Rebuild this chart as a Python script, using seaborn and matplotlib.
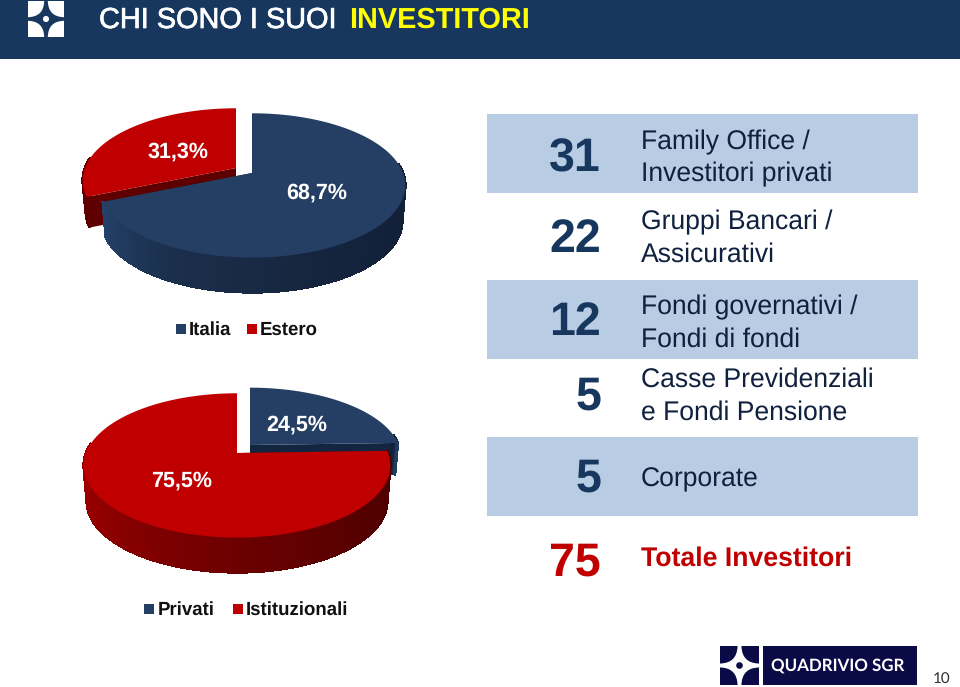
import numpy as np
import seaborn as sns
import matplotlib.pyplot as plt
import matplotlib.patheffects as pe
from matplotlib.patches import Polygon, Rectangle, Circle, PathPatch
from matplotlib.path import Path

# === DATA ===
title_white = "CHI SONO I SUOI"
title_yellow = "INVESTITORI"

geo_labels = ["Italia", "Estero"]
geo_values = [68.7, 31.3]
geo_texts = ["68,7%", "31,3%"]

type_labels = ["Privati", "Istituzionali"]
type_values = [24.5, 75.5]
type_texts = ["24,5%", "75,5%"]

investor_counts = [31, 22, 12, 5, 5, 75]
investor_lines = [
    "Family Office /\nInvestitori privati",
    "Gruppi Bancari /\nAssicurativi",
    "Fondi governativi /\nFondi di fondi",
    "Casse Previdenziali\ne Fondi Pensione",
    "Corporate",
    "Totale Investitori",
]
company = "QUADRIVIO SGR"
page_no = "10"

# === STYLE ===
NAVY = "#17375E"
BLUE = "#243F63"
RED = "#C00000"
BAND = "#B8CCE4"
LOGO = "#0A0A46"
TEXT = "#10203F"
sns.set_theme(style="white")
plt.rcParams["font.family"] = ["Liberation Sans", "DejaVu Sans"]
plt.rcParams["text.hinting"] = "none"

# whole figure in pixel coordinates, y going down
fig = plt.figure(figsize=(9.6, 6.87), dpi=100)
ax = fig.add_axes([0, 0, 1, 1])
ax.set_xlim(0, 960)
ax.set_ylim(687, 0)
ax.axis("off")


def project(theta, ax0, ay0, R=151, S=70, k=0.172):
    # tilted circle with a bit of perspective, apex at (ax0, ay0)
    u, v = np.cos(theta), np.sin(theta)
    w = 1 + k * v
    return ax0 + R * u / w, ay0 - S * v / w


def slab(value, start, ax0, ay0, h, top, cut, wall, z, rx=1.0, ry=1.0):
    # value in percent, clockwise from start (degrees)
    end = start - value * 3.6
    th = np.radians(np.linspace(start, end, 200))
    x, y = project(th, ax0, ay0, R=151 * rx, S=70 * ry)
    xb, yb = project(th, ax0, ay0, R=148 * rx, S=69 * ry)
    yb = yb + h

    # cut faces
    for i in (0, -1):
        ax.add_patch(Polygon([(ax0, ay0), (x[i], y[i]), (xb[i], yb[i]), (ax0, ay0 + h)],
                             fc=cut, ec="none", zorder=z))
    # outer wall, only the front part shows
    vis = np.where(np.sin(th) < 0.15)[0]
    if len(vis) > 1:
        pal = sns.blend_palette(wall, len(vis))
        for n in range(len(vis) - 1):
            a, b = vis[n], vis[n + 1]
            ax.add_patch(Polygon([(x[a], y[a]), (x[b], y[b]), (xb[b], yb[b]), (xb[a], yb[a])],
                                 fc=pal[n], ec=pal[n], lw=1.2, antialiased=False, zorder=z))
    ax.add_patch(Polygon(np.r_[[(ax0, ay0)], np.c_[x, y]], fc=top, ec="none", zorder=z + 0.5))


blue_wall = ["#131F33", "#12203A", "#16263F", "#1B2F4C", "#24416A"]
red_wall = ["#4A0000", "#550000", "#6E0000", "#8E0000", "#A00000"]

# --- header ---
ax.add_patch(Rectangle((0, 0), 960, 59, fc=NAVY, ec="none"))
ax.text(99, 20.5, title_white, color="white", fontsize=20.8, va="center", ha="left",
        path_effects=[pe.withStroke(linewidth=0.5, foreground="white")])
ax.text(349, 20.5, title_yellow, color="#FFFF00", fontsize=20.8, fontweight="bold", va="center", ha="left")


def logo(x, y, s, block, star, dot):
    ax.add_patch(Rectangle((x, y), s, s, fc=block, ec="none", zorder=5))
    c = s / 2
    g = s * 0.05
    d = s * 0.06
    # four thin tips on the edges, joined by concave arcs around the middle
    tips = [((c - g, 0), (c + g, 0)), ((s, c - g), (s, c + g)), ((c + g, s), (c - g, s)), ((0, c + g), (0, c - g))]
    ctrl = [(c + d, c - d), (c + d, c + d), (c - d, c + d), (c - d, c - d)]
    verts, codes = [tips[0][0]], [Path.MOVETO]
    for i in range(4):
        verts += [tips[i][1], ctrl[i], tips[(i + 1) % 4][0]]
        codes += [Path.LINETO, Path.CURVE3, Path.CURVE3]
    verts = [(x + p[0], y + p[1]) for p in verts] + [(0, 0)]
    codes = codes + [Path.CLOSEPOLY]
    ax.add_patch(PathPatch(Path(verts, codes), fc=star, ec="none", zorder=6))
    ax.add_patch(Circle((x + c, y + c), s * 0.085, fc=dot, ec="none", zorder=7))


logo(28, 1, 36, "white", NAVY, "white")

label_kw = dict(color="white", fontsize=15.5, fontweight="bold", ha="center", va="center", zorder=9)

# --- pie 1 ---
slab(geo_values[1], 90 + geo_values[1] * 3.6, 236, 168, 31, RED, "#5E0000", ["#5E0000", "#5E0000"], 2)
slab(geo_values[0], 90, 252, 173, 36, BLUE, "#16263E", blue_wall, 3)
ax.text(178, 152, geo_texts[1], **label_kw)
ax.text(317, 193, geo_texts[0], **label_kw)

# --- pie 2 ---
slab(type_values[0], 90, 250, 445, 32, BLUE, "#132540", blue_wall, 2, rx=0.985, ry=0.96)
slab(type_values[1], 90 - type_values[0] * 3.6, 237, 453, 36, RED, "#5E0000", red_wall, 3)
ax.text(297, 425, type_texts[0], **label_kw)
ax.text(182, 481, type_texts[1], **label_kw)


# --- legends ---
def legend_item(x, y, label, color, tx):
    ax.add_patch(Rectangle((x, y - 5), 10, 10, fc=color, ec="none"))
    ax.text(tx, y + 0.5, label, color="#101010", fontsize=13.4, fontweight="bold", va="center", ha="left")


legend_item(176, 329, geo_labels[0], BLUE, 189)
legend_item(247, 329, geo_labels[1], RED, 260)
legend_item(144, 609, type_labels[0], BLUE, 158)
legend_item(233, 609, type_labels[1], RED, 246)

# --- table on the right ---
for top, bottom in [(114, 193), (280, 359), (437, 516)]:
    ax.add_patch(Rectangle((487, top), 431, bottom - top, fc=BAND, ec="none"))

count_y = [159, 240, 323, 397, 479, 563]
text_y = [158.5, 238.5, 323.5, 396.5, 479, 559]
for i, (n, line) in enumerate(zip(investor_counts, investor_lines)):
    total = i == len(investor_counts) - 1
    ax.text(601, count_y[i], str(n), color=RED if total else NAVY, fontsize=33.5,
            fontweight="bold", ha="right", va="center")
    ax.text(641, text_y[i], line, color=RED if total else TEXT, fontsize=19.2 if total else 19.1,
            fontweight="bold" if total else "normal", ha="left", va="center", linespacing=1.38)

# --- footer ---
ax.add_patch(Rectangle((763, 646), 154, 39, fc=LOGO, ec="none"))
logo(720, 646, 39, LOGO, "white", LOGO)
ax.text(838, 666, company, color="white", fontsize=12.2, fontweight="bold", family="Lato", ha="center", va="center")
ax.text(942, 679, page_no, color="#303030", fontsize=11, family="Lato", ha="center", va="center")

sns.despine(fig=fig, left=True, bottom=True)
plt.savefig("out.png", dpi=100)
